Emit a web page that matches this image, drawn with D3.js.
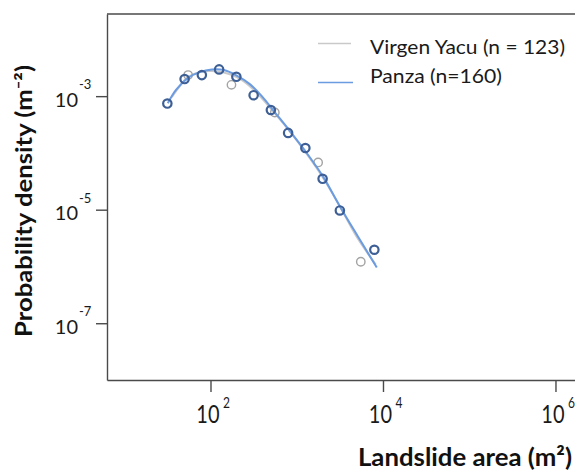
<!DOCTYPE html>
<html>
<head>
<meta charset="utf-8">
<script src="https://cdn.jsdelivr.net/npm/d3@7"></script>
<style>
  body { margin: 0; background: #fff; }
  svg { display: block; font-family: Lato, "Open Sans", sans-serif; }
</style>
</head>
<body>
<script>
// binned probability densities
const panzaArea = [31.6, 50.1, 79.4, 125.9, 199.5, 316.2, 501.2, 794.3, 1258.9, 1995.3, 3162.3, 7943.3];
const panzaDensity = [7.4e-4, 2.0e-3, 2.35e-3, 2.96e-3, 2.19e-3, 1.04e-3, 5.7e-4, 2.25e-4, 1.22e-4, 3.5e-5, 9.7e-6, 1.97e-6];
const yacuArea = [55, 175, 557, 1770, 5530];
const yacuDensity = [2.35e-3, 1.58e-3, 5.15e-4, 6.8e-5, 1.21e-6];

// fitted curves
const panzaFitArea = [32.0, 39.6, 54.5, 75.1, 103.5, 142.6, 201.8, 285.6, 393.6, 556.7, 787.8, 1239, 2005, 3155, 5102, 8472];
const panzaFitDensity = [7.5e-4, 1.28e-3, 2.08e-3, 2.65e-3, 2.94e-3, 2.88e-3, 2.30e-3, 1.63e-3, 1.0e-3, 5.2e-4, 2.7e-4, 1.11e-4, 3.9e-5, 1.15e-5, 3.4e-6, 9.6e-7];
const yacuFitArea = [35.6, 44.1, 54.5, 75.1, 103.5, 142.6, 201.8, 285.6, 393.6, 556.7, 830.6, 1239, 2005, 3155, 5102, 8252];
const yacuFitDensity = [9.6e-4, 1.50e-3, 2.16e-3, 2.65e-3, 2.76e-3, 2.60e-3, 2.16e-3, 1.50e-3, 9.2e-4, 5.0e-4, 2.4e-4, 1.07e-4, 3.7e-5, 1.15e-5, 3.1e-6, 1.08e-6];

const xTicks = [1e2, 1e4, 1e6];
const yTicks = [1e-3, 1e-5, 1e-7];
const legendLabels = ['Virgen Yacu (n = 123)', 'Panza (n=160)'];

const W = 575, H = 472;
const BLUE_LINE = '#6b9be0', BLUE_PT = '#3d5f95', GREY_LINE = '#c9c9c9', GREY_PT = '#a3a3a3', AXIS = '#4a4a4a';
const FONT = 'Lato, "Open Sans", sans-serif';

const svg = d3.select('body').append('svg').attr('width', W).attr('height', H);

const x = d3.scaleLog().domain([10 ** 0.8, 10 ** 6.5]).range([107, 598.6]);
const y = d3.scaleLog().domain([1e-8, 10 ** -1.553]).range([380, 14]);

/*
  Axes and frame
*/
const xAxis = svg.append('g')
  .attr('transform', `translate(0,${y.range()[0]})`)
  .call(d3.axisBottom(x).tickValues(xTicks).tickSize(12).tickSizeOuter(0).tickFormat(''))
  .attr('font-family', FONT);
const yAxis = svg.append('g')
  .attr('transform', `translate(${x.range()[0]},0)`)
  .call(d3.axisLeft(y).tickValues(yTicks).tickSize(11).tickSizeOuter(0).tickFormat(''))
  .attr('font-family', FONT);
svg.selectAll('.domain, .tick line').attr('stroke', AXIS).attr('stroke-width', 1.4);

svg.append('line')
  .attr('x1', x.range()[0]).attr('x2', x.range()[1])
  .attr('y1', y.range()[1]).attr('y2', y.range()[1])
  .attr('stroke', AXIS).attr('stroke-width', 1.4);

// power-of-ten labels
function exponent(v) { return Math.round(Math.log10(v)); }

xAxis.selectAll('.tick').each(function (d) {
  const g = d3.select(this);
  const t = g.append('g').attr('transform', 'translate(0,43) scale(1,1.25)');
  t.append('text').attr('x', 8.5).attr('text-anchor', 'end')
    .attr('font-size', 20).attr('fill', '#1a1a1a').text('10');
  t.append('text').attr('x', 12).attr('y', -12).attr('text-anchor', 'start')
    .attr('font-size', 12).attr('fill', '#1a1a1a').text(exponent(d));
});

yAxis.selectAll('.tick').each(function (d) {
  const g = d3.select(this);
  g.append('text').attr('x', -29).attr('y', 10).attr('text-anchor', 'end')
    .attr('font-size', 20).attr('fill', '#1a1a1a').text('10');
  g.append('text').attr('x', -28).attr('y', -7.5).attr('text-anchor', 'start')
    .attr('font-size', 13).attr('fill', '#1a1a1a').text(exponent(d));
});

// axis titles
svg.append('g').attr('transform', 'translate(358,466) scale(1,1.2)')
  .append('text')
    .attr('font-size', 20).attr('font-weight', 700).attr('fill', '#111')
    .attr('textLength', 214).attr('lengthAdjust', 'spacingAndGlyphs')
    .text('Landslide area (m²)');

svg.append('text')
  .attr('transform', 'translate(31.5,201) rotate(-90)')
  .attr('text-anchor', 'middle')
  .attr('font-size', 22).attr('font-weight', 700).attr('fill', '#111')
  .attr('textLength', 272).attr('lengthAdjust', 'spacingAndGlyphs')
  .text('Probability density (m⁻²)');

/*
  Curves and points
*/
const line = d3.line()
  .x(d => x(d[0]))
  .y(d => y(d[1]))
  .curve(d3.curveCatmullRom);

svg.append('path')
  .datum(d3.zip(yacuFitArea, yacuFitDensity))
  .attr('d', line).attr('fill', 'none')
  .attr('stroke', GREY_LINE).attr('stroke-width', 2);

svg.append('g').selectAll('circle')
  .data(d3.zip(yacuArea, yacuDensity))
  .join('circle')
    .attr('cx', d => x(d[0])).attr('cy', d => y(d[1])).attr('r', 4.2)
    .attr('fill', 'none').attr('stroke', GREY_PT).attr('stroke-width', 1.4);

svg.append('path')
  .datum(d3.zip(panzaFitArea, panzaFitDensity))
  .attr('d', line).attr('fill', 'none')
  .attr('stroke', BLUE_LINE).attr('stroke-width', 2);

svg.append('g').selectAll('circle')
  .data(d3.zip(panzaArea, panzaDensity))
  .join('circle')
    .attr('cx', d => x(d[0])).attr('cy', d => y(d[1])).attr('r', 4.2)
    .attr('fill', 'none').attr('stroke', BLUE_PT).attr('stroke-width', 2.2);

/*
  Legend
*/
const legend = svg.append('g');
const legendItems = [
  { label: legendLabels[0], color: GREY_LINE, lineY: 43.5, textY: 54.3, len: 195, x2: 351 },
  { label: legendLabels[1], color: BLUE_LINE, lineY: 82.5, textY: 83.3, len: 132, x2: 353 }
];
legendItems.forEach(item => {
  legend.append('line')
    .attr('x1', 318).attr('x2', item.x2)
    .attr('y1', item.lineY).attr('y2', item.lineY)
    .attr('stroke', item.color).attr('stroke-width', 1.5);
  legend.append('text')
    .attr('x', 370).attr('y', item.textY)
    .attr('font-size', 19).attr('fill', '#1a1a1a')
    .attr('textLength', item.len).attr('lengthAdjust', 'spacingAndGlyphs')
    .text(item.label);
});
</script>
</body>
</html>
